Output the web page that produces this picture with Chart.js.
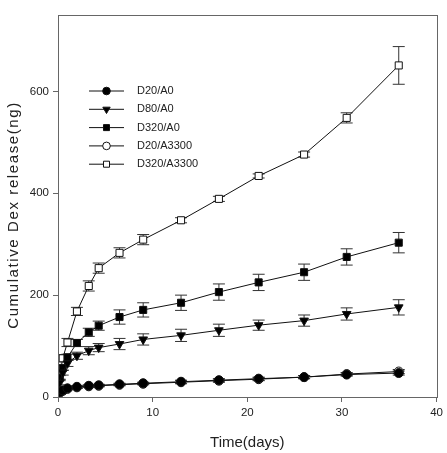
<!DOCTYPE html>
<html>
<head>
<meta charset="utf-8">
<script src="https://cdn.jsdelivr.net/npm/chart.js@4.4.0/dist/chart.umd.min.js"></script>
<style>
  html, body { margin: 0; padding: 0; background: #fff; }
</style>
</head>
<body>
<canvas id="chart" width="447" height="453"></canvas>
<script>
// sampling times (days)
const days = [0.17, 0.5, 1, 2, 3.25, 4.3, 6.5, 9, 13, 17, 21.2, 26, 30.5, 36];

const seriesNames = ['D20/A0', 'D80/A0', 'D320/A0', 'D20/A3300', 'D320/A3300'];

const d20a0 = [9, 13, 17, 20, 22, 23, 25, 27, 30, 33, 36, 39, 44, 47];
const d80a0 = [28, 48, 66, 81, 91, 97, 104, 113, 121, 131, 141, 150, 163, 176];
const d320a0 = [38, 57, 78, 106, 127, 140, 157, 171, 185, 206, 225, 245, 275, 303];
const d20a3300 = [8, 12, 16, 19, 21, 22, 24, 26, 29, 32, 35, 39, 45, 50];
const d320a3300 = [40, 76, 107, 168, 218, 253, 283, 309, 347, 389, 434, 476, 548, 651];

// standard deviations
const d20a0Err = [2, 2, 2, 2, 2, 2, 2, 2, 3, 3, 3, 3, 3, 4];
const d80a0Err = [4, 5, 6, 7, 8, 8, 11, 11, 12, 12, 10, 11, 12, 15];
const d320a0Err = [4, 5, 6, 7, 8, 9, 14, 14, 15, 16, 16, 16, 16, 20];
const d20a3300Err = [2, 2, 2, 2, 2, 2, 2, 2, 3, 3, 3, 3, 3, 4];
const d320a3300Err = [5, 7, 8, 8, 10, 10, 10, 10, 5, 5, 4, 5, 10, 37];

const yTicks = [0, 200, 400, 600];
const yTitle = 'Cumulative Dex release(ng)';

const values = [d20a0, d80a0, d320a0, d20a3300, d320a3300];
const errors = [d20a0Err, d80a0Err, d320a0Err, d20a3300Err, d320a3300Err];
const styles = [
  { pointStyle: 'circle', fill: '#000', radius: 4.5, rotation: 0 },
  { pointStyle: 'triangle', fill: '#000', radius: 5, rotation: 180 },
  { pointStyle: 'rect', fill: '#000', radius: 5, rotation: 0 },
  { pointStyle: 'circle', fill: '#fff', radius: 4.5, rotation: 0 },
  { pointStyle: 'rect', fill: '#fff', radius: 5, rotation: 0 }
];

const FONT = '"Liberation Sans", Arial, sans-serif';

const datasets = seriesNames.map((name, i) => ({
  label: name,
  data: days.map((d, j) => ({ x: d, y: values[i][j] })),
  errors: errors[i],
  showLine: true,
  tension: 0,
  borderColor: '#111',
  borderWidth: 1,
  pointBorderColor: '#111',
  pointBorderWidth: 1,
  pointBackgroundColor: styles[i].fill,
  pointStyle: styles[i].pointStyle,
  pointRadius: styles[i].radius,
  pointRotation: styles[i].rotation
}));

// draws the error bars under the markers
const errorBars = {
  id: 'errorBars',
  beforeDatasetsDraw(chart) {
    const ctx = chart.ctx;
    const xs = chart.scales.x;
    const ys = chart.scales.y;
    ctx.save();
    Chart.helpers.clipArea(ctx, chart.chartArea);
    ctx.strokeStyle = '#333';
    ctx.lineWidth = 1;
    chart.data.datasets.forEach(ds => {
      ds.data.forEach((p, j) => {
        const e = ds.errors[j];
        const px = xs.getPixelForValue(p.x);
        const top = ys.getPixelForValue(p.y + e);
        const bot = ys.getPixelForValue(p.y - e);
        ctx.beginPath();
        ctx.moveTo(px, top); ctx.lineTo(px, bot);
        ctx.moveTo(px - 6, top); ctx.lineTo(px + 6, top);
        ctx.moveTo(px - 6, bot); ctx.lineTo(px + 6, bot);
        ctx.stroke();
      });
    });
    Chart.helpers.unclipArea(ctx);
    ctx.restore();
  }
};

// frame round the plot, the y title and the legend inside the plot
const frameAndLegend = {
  id: 'frameAndLegend',
  afterDraw(chart) {
    const ctx = chart.ctx;
    const a = chart.chartArea;
    ctx.save();
    ctx.strokeStyle = '#666';
    ctx.lineWidth = 1;
    ctx.strokeRect(Math.round(a.left) + 0.5, Math.round(a.top) + 0.5,
      Math.round(a.right - a.left), Math.round(a.bottom - a.top));

    // y title, spaced out a bit like the original
    ctx.save();
    ctx.translate(14, 215);
    ctx.rotate(-Math.PI / 2);
    ctx.font = '15px ' + FONT;
    ctx.letterSpacing = '1.6px';
    ctx.fillStyle = '#222';
    ctx.textAlign = 'center';
    ctx.textBaseline = 'middle';
    ctx.fillText(yTitle, 0, 0);
    ctx.restore();

    ctx.font = '11px ' + FONT;
    ctx.textBaseline = 'middle';
    chart.data.datasets.forEach((ds, i) => {
      const y = 91 + i * 18.3;
      ctx.strokeStyle = '#111';
      ctx.beginPath();
      ctx.moveTo(89, y); ctx.lineTo(124, y);
      ctx.stroke();
      ctx.fillStyle = ds.pointBackgroundColor;
      Chart.helpers.drawPoint(ctx, {
        pointStyle: ds.pointStyle,
        radius: ds.pointRadius * 0.85,
        rotation: ds.pointRotation,
        borderWidth: 1
      }, 106.5, y);
      ctx.fillStyle = '#222';
      ctx.fillText(ds.label, 137, y);
    });
    ctx.restore();
  }
};

new Chart(document.getElementById('chart'), {
  type: 'scatter',
  data: { datasets },
  plugins: [errorBars, frameAndLegend],
  options: {
    responsive: false,
    animation: false,
    devicePixelRatio: 1,
    layout: { padding: { left: 0, top: 15, right: 7, bottom: 0 } },
    plugins: {
      legend: { display: false },
      tooltip: { enabled: false }
    },
    scales: {
      x: {
        type: 'linear',
        min: 0,
        max: 40,
        afterFit: scale => { scale.height = 56; },
        ticks: {
          stepSize: 10,
          color: '#222',
          padding: 4,
          font: { family: FONT, size: 11.5 }
        },
        grid: { drawOnChartArea: false, drawTicks: true, tickLength: 5, color: '#666' },
        border: { color: '#666' },
        title: {
          display: true,
          text: 'Time(days)',
          color: '#222',
          padding: { top: 0, bottom: 1 },
          font: { family: FONT, size: 15 }
        }
      },
      y: {
        type: 'linear',
        min: 0,
        max: 750,
        afterFit: scale => { scale.width = 58; },
        afterBuildTicks: scale => { scale.ticks = yTicks.map(v => ({ value: v })); },
        ticks: {
          color: '#222',
          padding: 4,
          font: { family: FONT, size: 11.5 }
        },
        grid: { drawOnChartArea: false, drawTicks: true, tickLength: 5, color: '#666' },
        border: { color: '#666' },
        title: { display: false }
      }
    }
  }
});
</script>
</body>
</html>
